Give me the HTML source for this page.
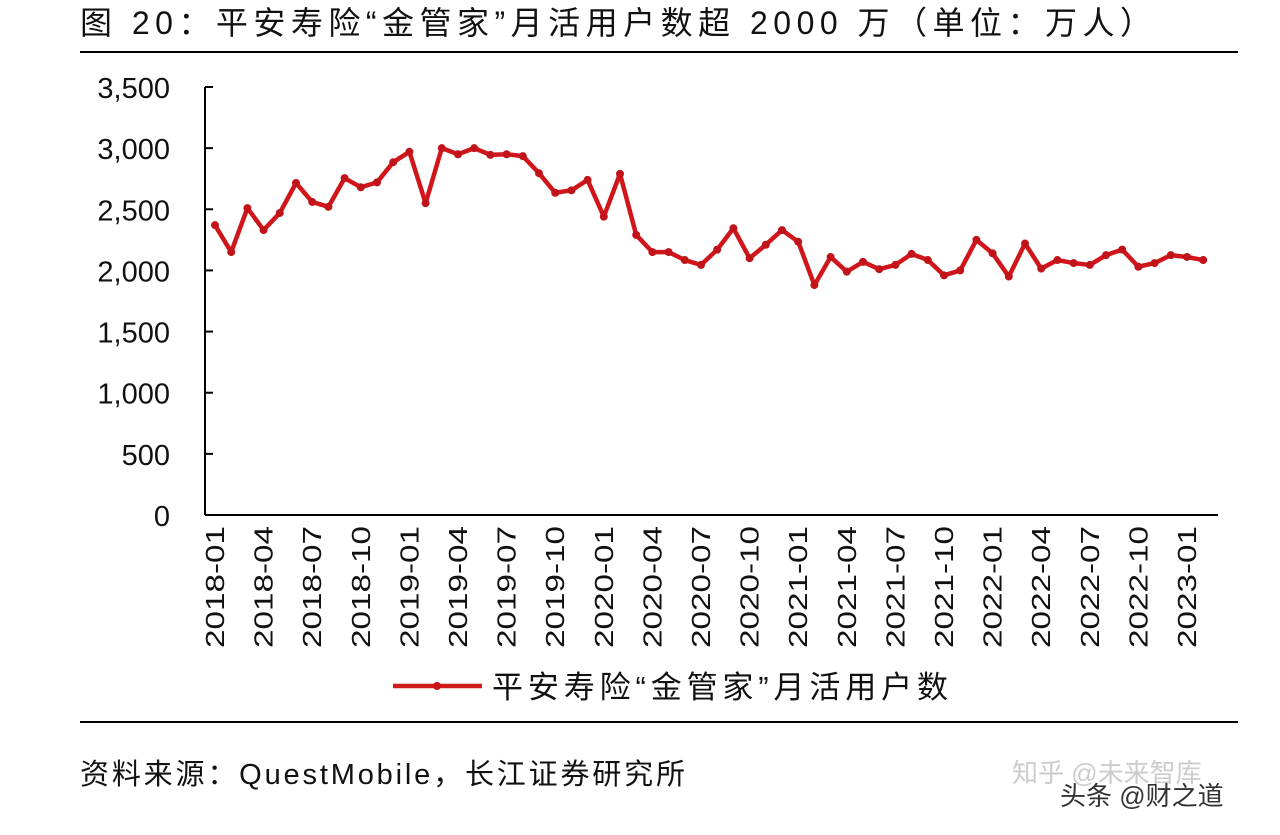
<!DOCTYPE html>
<html><head><meta charset="utf-8"><style>
body{margin:0;background:#fff;width:1280px;height:830px;overflow:hidden;font-family:"Liberation Sans","Noto Sans CJK SC",sans-serif;}
</style></head><body>
<svg width="1280" height="830" xmlns="http://www.w3.org/2000/svg">
<text x="80" y="34" font-size="32" fill="#111" textLength="1072" lengthAdjust="spacing">图 20：平安寿险“金管家”月活用户数超 2000 万（单位：万人）</text>
<line x1="80" y1="52" x2="1238" y2="52" stroke="#000" stroke-width="2"/>
<line x1="80" y1="722" x2="1238" y2="722" stroke="#000" stroke-width="2"/>
<g id="axes"></g>
<g id="series"></g>
<line x1="393" y1="686" x2="482" y2="686" stroke="#d11a1a" stroke-width="4.5"/>
<circle cx="437" cy="686" r="4" fill="#c8161b"/>
<text x="492" y="698" font-size="31" fill="#111" textLength="456" lengthAdjust="spacing">平安寿险“金管家”月活用户数</text>
<text x="80" y="784" font-size="29" fill="#111" textLength="605" lengthAdjust="spacing">资料来源：QuestMobile，长江证券研究所</text>
<text x="1012" y="782" font-size="26" fill="#ccc">知乎 @未来智库</text>
<text x="1060" y="805" font-size="26" fill="#333">头条 @财之道</text>
</svg>
<script>
const values=[2370,2150,2510,2330,2470,2715,2560,2520,2755,2680,2720,2885,2970,2550,3000,2950,3000,2945,2950,2935,2795,2635,2655,2740,2440,2790,2290,2150,2150,2085,2045,2170,2345,2100,2210,2330,2235,1880,2110,1990,2070,2010,2045,2135,2085,1960,2000,2250,2140,1950,2220,2015,2085,2060,2045,2125,2170,2030,2060,2125,2110,2085];
const yTicks=[0,500,1000,1500,2000,2500,3000,3500];
const startYear=2018;
const NS="http://www.w3.org/2000/svg";
const x0=215,dx=16.2,y0=515,yMax=3500,yTop=87;
function X(i){return x0+i*dx;}
function Y(v){return y0-(v/yMax)*(y0-yTop);}
function mk(t,a,p){const e=document.createElementNS(NS,t);for(const k in a)e.setAttribute(k,a[k]);p.appendChild(e);return e;}
const ax=document.getElementById('axes');
const yl=mk('line',{x1:205,y1:yTop,x2:205,y2:y0,stroke:'#000','stroke-width':2},ax);


const xl=mk('line',{x1:205,y1:y0,x2:1218,y2:y0,stroke:'#000','stroke-width':2},ax);


yTicks.forEach(v=>{
 const tk=mk('line',{x1:205,y1:Y(v),x2:213,y2:Y(v),stroke:'#000','stroke-width':2},ax);
 
 
 const t=mk('text',{x:170,y:Y(v)+11,'font-size':29,'text-anchor':'end',fill:'#111'},ax);
 t.textContent=v.toLocaleString('en-US');
 
 
});
for(let i=0;i<values.length;i+=3){
 const yr=startYear+Math.floor(i/12),m=i%12+1;
 const lab=yr+'-'+(m<10?'0':'')+m;
 const t=mk('text',{x:0,y:0,'font-size':26,'text-anchor':'end',fill:'#111',textLength:122,lengthAdjust:'spacingAndGlyphs',transform:`translate(${X(i)+9},526) rotate(-90)`},ax);
 t.textContent=lab;
 
 
}
const sg=document.getElementById('series');
const pl=mk('polyline',{points:values.map((v,i)=>X(i)+','+Y(v)).join(' '),fill:'none',stroke:'#d0161b','stroke-width':4.5,'stroke-linejoin':'round'},sg);


values.forEach((v,i)=>{
 const c=mk('circle',{cx:X(i),cy:Y(v),r:4,fill:'#c0141a'},sg);
 
 
});
</script>
</body></html>
